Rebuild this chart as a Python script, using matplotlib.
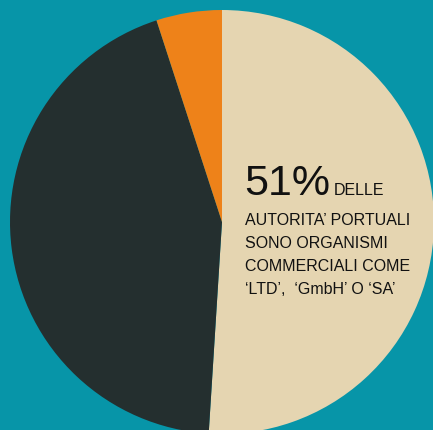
import matplotlib.pyplot as plt

quote = [51, 44, 5]
colori = ["#e5d5b1", "#242f2f", "#ee8219"]
titolo = "51%"
sottotitolo = "DELLE"
righe = ["AUTORITA’ PORTUALI", "SONO ORGANISMI", "COMMERCIALI COME", "‘LTD’,  ‘GmbH’ O ‘SA’"]

W, H = 433, 430
fig = plt.figure(figsize=(W / 100, H / 100), dpi=100, facecolor="#0795a8")
ax = fig.add_axes([0, 0, 1, 1])
ax.set_facecolor("#0795a8")

ax.pie(quote, colors=colori, startangle=90, counterclock=False,
       center=(222, H - 222), radius=212, frame=True,
       wedgeprops=dict(linewidth=0))
ax.set_xlim(0, W)
ax.set_ylim(0, H)
ax.set_aspect("equal")
ax.axis("off")

font = ["Liberation Sans", "DejaVu Sans"]
ax.text(244, H - 195, titolo, fontsize=31, family=font, color="#111111", va="baseline")
ax.text(334, H - 195, sottotitolo, fontsize=11.5, family=font, color="#111111", va="baseline")
for i, r in enumerate(righe):
    ax.text(245, H - 225 - i * 23, r, fontsize=11.5, family=font, color="#111111", va="baseline")

fig.savefig("out.png", dpi=100, facecolor=fig.get_facecolor())
